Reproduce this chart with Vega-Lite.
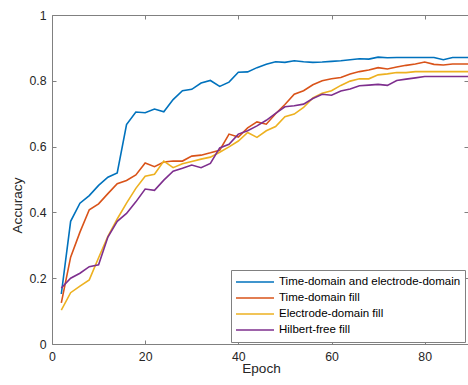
{
  "$schema": "https://vega.github.io/schema/vega-lite/v6.json",
  "width": 416,
  "height": 329,
  "autosize": {"type": "none"},
  "padding": {"left": 52, "top": 15, "right": 0, "bottom": 41},
  "background": "white",
  "data": {"values": [
    {"series":"Time-domain and electrode-domain","epoch":2,"accuracy":0.152},
    {"series":"Time-domain and electrode-domain","epoch":4,"accuracy":0.373},
    {"series":"Time-domain and electrode-domain","epoch":6,"accuracy":0.428},
    {"series":"Time-domain and electrode-domain","epoch":8,"accuracy":0.451},
    {"series":"Time-domain and electrode-domain","epoch":10,"accuracy":0.482},
    {"series":"Time-domain and electrode-domain","epoch":12,"accuracy":0.507},
    {"series":"Time-domain and electrode-domain","epoch":14,"accuracy":0.520},
    {"series":"Time-domain and electrode-domain","epoch":16,"accuracy":0.667},
    {"series":"Time-domain and electrode-domain","epoch":18,"accuracy":0.705},
    {"series":"Time-domain and electrode-domain","epoch":20,"accuracy":0.703},
    {"series":"Time-domain and electrode-domain","epoch":22,"accuracy":0.714},
    {"series":"Time-domain and electrode-domain","epoch":24,"accuracy":0.706},
    {"series":"Time-domain and electrode-domain","epoch":26,"accuracy":0.743},
    {"series":"Time-domain and electrode-domain","epoch":28,"accuracy":0.770},
    {"series":"Time-domain and electrode-domain","epoch":30,"accuracy":0.774},
    {"series":"Time-domain and electrode-domain","epoch":32,"accuracy":0.793},
    {"series":"Time-domain and electrode-domain","epoch":34,"accuracy":0.801},
    {"series":"Time-domain and electrode-domain","epoch":36,"accuracy":0.783},
    {"series":"Time-domain and electrode-domain","epoch":38,"accuracy":0.796},
    {"series":"Time-domain and electrode-domain","epoch":40,"accuracy":0.826},
    {"series":"Time-domain and electrode-domain","epoch":42,"accuracy":0.827},
    {"series":"Time-domain and electrode-domain","epoch":44,"accuracy":0.840},
    {"series":"Time-domain and electrode-domain","epoch":46,"accuracy":0.850},
    {"series":"Time-domain and electrode-domain","epoch":48,"accuracy":0.858},
    {"series":"Time-domain and electrode-domain","epoch":50,"accuracy":0.856},
    {"series":"Time-domain and electrode-domain","epoch":52,"accuracy":0.861},
    {"series":"Time-domain and electrode-domain","epoch":54,"accuracy":0.858},
    {"series":"Time-domain and electrode-domain","epoch":56,"accuracy":0.856},
    {"series":"Time-domain and electrode-domain","epoch":58,"accuracy":0.857},
    {"series":"Time-domain and electrode-domain","epoch":60,"accuracy":0.859},
    {"series":"Time-domain and electrode-domain","epoch":62,"accuracy":0.861},
    {"series":"Time-domain and electrode-domain","epoch":64,"accuracy":0.864},
    {"series":"Time-domain and electrode-domain","epoch":66,"accuracy":0.867},
    {"series":"Time-domain and electrode-domain","epoch":68,"accuracy":0.866},
    {"series":"Time-domain and electrode-domain","epoch":70,"accuracy":0.872},
    {"series":"Time-domain and electrode-domain","epoch":72,"accuracy":0.870},
    {"series":"Time-domain and electrode-domain","epoch":74,"accuracy":0.871},
    {"series":"Time-domain and electrode-domain","epoch":76,"accuracy":0.871},
    {"series":"Time-domain and electrode-domain","epoch":78,"accuracy":0.871},
    {"series":"Time-domain and electrode-domain","epoch":80,"accuracy":0.871},
    {"series":"Time-domain and electrode-domain","epoch":82,"accuracy":0.871},
    {"series":"Time-domain and electrode-domain","epoch":84,"accuracy":0.864},
    {"series":"Time-domain and electrode-domain","epoch":86,"accuracy":0.871},
    {"series":"Time-domain and electrode-domain","epoch":88,"accuracy":0.871},
    {"series":"Time-domain and electrode-domain","epoch":90,"accuracy":0.871},
    {"series":"Time-domain fill","epoch":2,"accuracy":0.125},
    {"series":"Time-domain fill","epoch":4,"accuracy":0.264},
    {"series":"Time-domain fill","epoch":6,"accuracy":0.340},
    {"series":"Time-domain fill","epoch":8,"accuracy":0.408},
    {"series":"Time-domain fill","epoch":10,"accuracy":0.426},
    {"series":"Time-domain fill","epoch":12,"accuracy":0.457},
    {"series":"Time-domain fill","epoch":14,"accuracy":0.487},
    {"series":"Time-domain fill","epoch":16,"accuracy":0.497},
    {"series":"Time-domain fill","epoch":18,"accuracy":0.514},
    {"series":"Time-domain fill","epoch":20,"accuracy":0.550},
    {"series":"Time-domain fill","epoch":22,"accuracy":0.539},
    {"series":"Time-domain fill","epoch":24,"accuracy":0.553},
    {"series":"Time-domain fill","epoch":26,"accuracy":0.556},
    {"series":"Time-domain fill","epoch":28,"accuracy":0.556},
    {"series":"Time-domain fill","epoch":30,"accuracy":0.571},
    {"series":"Time-domain fill","epoch":32,"accuracy":0.574},
    {"series":"Time-domain fill","epoch":34,"accuracy":0.581},
    {"series":"Time-domain fill","epoch":36,"accuracy":0.589},
    {"series":"Time-domain fill","epoch":38,"accuracy":0.638},
    {"series":"Time-domain fill","epoch":40,"accuracy":0.629},
    {"series":"Time-domain fill","epoch":42,"accuracy":0.657},
    {"series":"Time-domain fill","epoch":44,"accuracy":0.675},
    {"series":"Time-domain fill","epoch":46,"accuracy":0.668},
    {"series":"Time-domain fill","epoch":48,"accuracy":0.700},
    {"series":"Time-domain fill","epoch":50,"accuracy":0.728},
    {"series":"Time-domain fill","epoch":52,"accuracy":0.759},
    {"series":"Time-domain fill","epoch":54,"accuracy":0.770},
    {"series":"Time-domain fill","epoch":56,"accuracy":0.788},
    {"series":"Time-domain fill","epoch":58,"accuracy":0.800},
    {"series":"Time-domain fill","epoch":60,"accuracy":0.806},
    {"series":"Time-domain fill","epoch":62,"accuracy":0.810},
    {"series":"Time-domain fill","epoch":64,"accuracy":0.821},
    {"series":"Time-domain fill","epoch":66,"accuracy":0.828},
    {"series":"Time-domain fill","epoch":68,"accuracy":0.833},
    {"series":"Time-domain fill","epoch":70,"accuracy":0.840},
    {"series":"Time-domain fill","epoch":72,"accuracy":0.836},
    {"series":"Time-domain fill","epoch":74,"accuracy":0.842},
    {"series":"Time-domain fill","epoch":76,"accuracy":0.847},
    {"series":"Time-domain fill","epoch":78,"accuracy":0.851},
    {"series":"Time-domain fill","epoch":80,"accuracy":0.857},
    {"series":"Time-domain fill","epoch":82,"accuracy":0.850},
    {"series":"Time-domain fill","epoch":84,"accuracy":0.848},
    {"series":"Time-domain fill","epoch":86,"accuracy":0.851},
    {"series":"Time-domain fill","epoch":88,"accuracy":0.851},
    {"series":"Time-domain fill","epoch":90,"accuracy":0.851},
    {"series":"Electrode-domain fill","epoch":2,"accuracy":0.103},
    {"series":"Electrode-domain fill","epoch":4,"accuracy":0.156},
    {"series":"Electrode-domain fill","epoch":6,"accuracy":0.176},
    {"series":"Electrode-domain fill","epoch":8,"accuracy":0.195},
    {"series":"Electrode-domain fill","epoch":10,"accuracy":0.262},
    {"series":"Electrode-domain fill","epoch":12,"accuracy":0.327},
    {"series":"Electrode-domain fill","epoch":14,"accuracy":0.380},
    {"series":"Electrode-domain fill","epoch":16,"accuracy":0.428},
    {"series":"Electrode-domain fill","epoch":18,"accuracy":0.473},
    {"series":"Electrode-domain fill","epoch":20,"accuracy":0.510},
    {"series":"Electrode-domain fill","epoch":22,"accuracy":0.516},
    {"series":"Electrode-domain fill","epoch":24,"accuracy":0.556},
    {"series":"Electrode-domain fill","epoch":26,"accuracy":0.536},
    {"series":"Electrode-domain fill","epoch":28,"accuracy":0.548},
    {"series":"Electrode-domain fill","epoch":30,"accuracy":0.555},
    {"series":"Electrode-domain fill","epoch":32,"accuracy":0.562},
    {"series":"Electrode-domain fill","epoch":34,"accuracy":0.568},
    {"series":"Electrode-domain fill","epoch":36,"accuracy":0.583},
    {"series":"Electrode-domain fill","epoch":38,"accuracy":0.599},
    {"series":"Electrode-domain fill","epoch":40,"accuracy":0.617},
    {"series":"Electrode-domain fill","epoch":42,"accuracy":0.643},
    {"series":"Electrode-domain fill","epoch":44,"accuracy":0.628},
    {"series":"Electrode-domain fill","epoch":46,"accuracy":0.648},
    {"series":"Electrode-domain fill","epoch":48,"accuracy":0.661},
    {"series":"Electrode-domain fill","epoch":50,"accuracy":0.691},
    {"series":"Electrode-domain fill","epoch":52,"accuracy":0.699},
    {"series":"Electrode-domain fill","epoch":54,"accuracy":0.719},
    {"series":"Electrode-domain fill","epoch":56,"accuracy":0.748},
    {"series":"Electrode-domain fill","epoch":58,"accuracy":0.762},
    {"series":"Electrode-domain fill","epoch":60,"accuracy":0.770},
    {"series":"Electrode-domain fill","epoch":62,"accuracy":0.786},
    {"series":"Electrode-domain fill","epoch":64,"accuracy":0.799},
    {"series":"Electrode-domain fill","epoch":66,"accuracy":0.806},
    {"series":"Electrode-domain fill","epoch":68,"accuracy":0.806},
    {"series":"Electrode-domain fill","epoch":70,"accuracy":0.818},
    {"series":"Electrode-domain fill","epoch":72,"accuracy":0.821},
    {"series":"Electrode-domain fill","epoch":74,"accuracy":0.825},
    {"series":"Electrode-domain fill","epoch":76,"accuracy":0.825},
    {"series":"Electrode-domain fill","epoch":78,"accuracy":0.828},
    {"series":"Electrode-domain fill","epoch":80,"accuracy":0.828},
    {"series":"Electrode-domain fill","epoch":82,"accuracy":0.828},
    {"series":"Electrode-domain fill","epoch":84,"accuracy":0.828},
    {"series":"Electrode-domain fill","epoch":86,"accuracy":0.828},
    {"series":"Electrode-domain fill","epoch":88,"accuracy":0.828},
    {"series":"Electrode-domain fill","epoch":90,"accuracy":0.828},
    {"series":"Hilbert-free fill","epoch":2,"accuracy":0.170},
    {"series":"Hilbert-free fill","epoch":4,"accuracy":0.200},
    {"series":"Hilbert-free fill","epoch":6,"accuracy":0.215},
    {"series":"Hilbert-free fill","epoch":8,"accuracy":0.235},
    {"series":"Hilbert-free fill","epoch":10,"accuracy":0.241},
    {"series":"Hilbert-free fill","epoch":12,"accuracy":0.325},
    {"series":"Hilbert-free fill","epoch":14,"accuracy":0.373},
    {"series":"Hilbert-free fill","epoch":16,"accuracy":0.397},
    {"series":"Hilbert-free fill","epoch":18,"accuracy":0.432},
    {"series":"Hilbert-free fill","epoch":20,"accuracy":0.471},
    {"series":"Hilbert-free fill","epoch":22,"accuracy":0.467},
    {"series":"Hilbert-free fill","epoch":24,"accuracy":0.498},
    {"series":"Hilbert-free fill","epoch":26,"accuracy":0.525},
    {"series":"Hilbert-free fill","epoch":28,"accuracy":0.534},
    {"series":"Hilbert-free fill","epoch":30,"accuracy":0.544},
    {"series":"Hilbert-free fill","epoch":32,"accuracy":0.536},
    {"series":"Hilbert-free fill","epoch":34,"accuracy":0.549},
    {"series":"Hilbert-free fill","epoch":36,"accuracy":0.596},
    {"series":"Hilbert-free fill","epoch":38,"accuracy":0.607},
    {"series":"Hilbert-free fill","epoch":40,"accuracy":0.638},
    {"series":"Hilbert-free fill","epoch":42,"accuracy":0.648},
    {"series":"Hilbert-free fill","epoch":44,"accuracy":0.663},
    {"series":"Hilbert-free fill","epoch":46,"accuracy":0.680},
    {"series":"Hilbert-free fill","epoch":48,"accuracy":0.701},
    {"series":"Hilbert-free fill","epoch":50,"accuracy":0.721},
    {"series":"Hilbert-free fill","epoch":52,"accuracy":0.724},
    {"series":"Hilbert-free fill","epoch":54,"accuracy":0.729},
    {"series":"Hilbert-free fill","epoch":56,"accuracy":0.746},
    {"series":"Hilbert-free fill","epoch":58,"accuracy":0.759},
    {"series":"Hilbert-free fill","epoch":60,"accuracy":0.756},
    {"series":"Hilbert-free fill","epoch":62,"accuracy":0.769},
    {"series":"Hilbert-free fill","epoch":64,"accuracy":0.775},
    {"series":"Hilbert-free fill","epoch":66,"accuracy":0.785},
    {"series":"Hilbert-free fill","epoch":68,"accuracy":0.787},
    {"series":"Hilbert-free fill","epoch":70,"accuracy":0.789},
    {"series":"Hilbert-free fill","epoch":72,"accuracy":0.786},
    {"series":"Hilbert-free fill","epoch":74,"accuracy":0.801},
    {"series":"Hilbert-free fill","epoch":76,"accuracy":0.805},
    {"series":"Hilbert-free fill","epoch":78,"accuracy":0.809},
    {"series":"Hilbert-free fill","epoch":80,"accuracy":0.813},
    {"series":"Hilbert-free fill","epoch":82,"accuracy":0.813},
    {"series":"Hilbert-free fill","epoch":84,"accuracy":0.813},
    {"series":"Hilbert-free fill","epoch":86,"accuracy":0.813},
    {"series":"Hilbert-free fill","epoch":88,"accuracy":0.813},
    {"series":"Hilbert-free fill","epoch":90,"accuracy":0.813}
  ]},
  "layer": [
    {
      "mark": {"type": "point", "opacity": 0},
      "encoding": {
        "x": {"field": "epoch", "type": "quantitative",
          "scale": {"domain": [0, 89.3], "nice": false},
          "axis": {"orient": "top", "labels": false, "title": null, "values": [0, 20, 40, 60, 80]}},
        "y": {"field": "accuracy", "type": "quantitative",
          "scale": {"domain": [0, 1], "nice": false},
          "axis": {"orient": "right", "labels": false, "title": null, "values": [0, 0.2, 0.4, 0.6, 0.8, 1]}}
      }
    },
    {
      "mark": {"type": "line", "strokeWidth": 1.6, "clip": true},
      "encoding": {
        "x": {"field": "epoch", "type": "quantitative",
          "scale": {"domain": [0, 89.3], "nice": false},
          "axis": {"orient": "bottom", "title": "Epoch", "values": [0, 20, 40, 60, 80],
            "titleX": 209, "titleY": 28, "titleBaseline": "alphabetic", "titleAnchor": "middle"}},
        "y": {"field": "accuracy", "type": "quantitative",
          "scale": {"domain": [0, 1], "nice": false},
          "axis": {"orient": "left", "title": "Accuracy", "values": [0, 0.2, 0.4, 0.6, 0.8, 1], "format": "~g",
            "titleX": -31, "titleY": 190, "titleBaseline": "alphabetic", "titleAlign": "center"}},
        "color": {"field": "series", "type": "nominal",
          "scale": {"domain": ["Time-domain and electrode-domain", "Time-domain fill", "Electrode-domain fill", "Hilbert-free fill"],
                    "range": ["#0072BD", "#D95319", "#EDB120", "#7E2F8E"]},
          "legend": {"orient": "none", "legendX": 179, "legendY": 255, "title": null}}
      }
    }
  ],
  "resolve": {"axis": {"x": "independent", "y": "independent"}},
  "config": {
    "view": {"stroke": null},
    "font": "Liberation Sans",
    "axis": {
      "grid": false,
      "domainColor": "#808080", "domainWidth": 1,
      "tickColor": "#808080", "tickWidth": 1, "tickSize": -4,
      "labelColor": "#262626", "labelFont": "Liberation Sans", "labelFontSize": 12.3,
      "labelPadding": 10, "labelFlush": false,
      "titleColor": "#262626", "titleFont": "Liberation Sans", "titleFontSize": 13.6, "titleFontWeight": "normal"
    },
    "legend": {
      "symbolType": "stroke", "symbolSize": 1444, "symbolStrokeWidth": 1.6,
      "labelFont": "Liberation Sans", "labelFontSize": 11.5, "labelColor": "#000000", "labelLimit": 400,
      "strokeColor": "#808080", "fillColor": "white", "padding": 4,
      "clipHeight": 16, "rowPadding": 0, "labelOffset": 4
    }
  }
}
